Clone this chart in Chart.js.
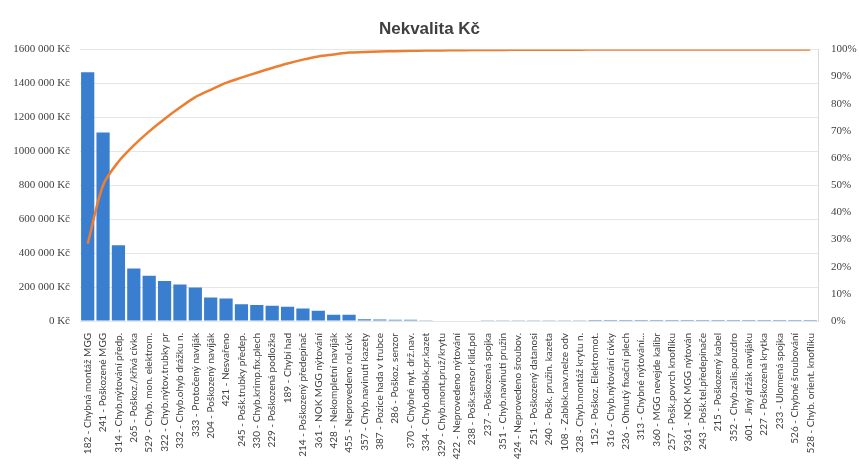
<!DOCTYPE html>
<html>
<head>
<meta charset="utf-8">
<script src="https://cdn.jsdelivr.net/npm/chart.js@4/dist/chart.umd.min.js"></script>
<style>
  html, body { margin: 0; padding: 0; background: #fff; }
  #wrap { width: 859px; height: 475px; }
</style>
</head>
<body>
<div id="wrap"><canvas id="pareto"></canvas></div>
<script>
// defect codes, sorted by cost
var categories = [
  "182 - Chybná montáž MGG", "241 - Poškozené MGG", "314 - Chyb.nýtování předp.",
  "265 - Poškoz./křivá cívka", "529 - Chyb. mon. elektrom.", "322 - Chyb.nýtov.trubky pr",
  "332 - Chyb.ohyb drážku n.", "333 - Protočený navíják", "204 - Poškozený navíják",
  "421 - Nesvařeno", "245 - Pošk.trubky předep.", "330 - Chyb.krimp.fix.plech",
  "229 - Poškozená podložka", "189 - Chybí had", "214 - Poškozený předepínač",
  "361 - NOK MGG nýtování", "428 - Nekompletní navíják", "455 - Neprovedeno rol.cívk",
  "357 - Chyb.navinutí kazety", "387 - Pozice hada v trubce", "286 - Poškoz. senzor",
  "370 - Chybné nyt. drž.nav.", "334 - Chyb.odblok.pr.kazet", "329 - Chyb.mont.pruž/krytu",
  "422 - Neprovedeno nýtování", "238 - Pošk.sensor klid.pol", "237 - Poškozená spojka",
  "351 - Chyb.navinutí pružin", "424 - Neprovedeno šroubov.", "251 - Poškozený datanosi",
  "240 - Pošk. pružin. kazeta", "108 - Zablok.nav.nelze odv", "328 - Chyb.montáž krytu n.",
  "152 - Poškoz. Elektromot.", "316 - Chyb.nýtování cívky", "236 - Ohnutý fixační plech",
  "313 - Chybné nýtování...", "360 - MGG nevejde kalibr", "257 - Pošk.povrch knoflíku",
  "9361 - NOK MGG nýtován", "243 - Pošk.tel.předepínače", "215 - Poškozený kabel",
  "352 - Chyb.zalis.pouzdro", "601 - Jiný držák navíjáku", "227 - Poškozená krytka",
  "233 - Ulomená spojka", "526 - Chybné šroubování", "528 - Chyb. orient. knoflíku"
];

// cost per defect code (Kč)
var costs = [
  1466000, 1110000, 446000, 309000, 266000, 236000,
  215000, 198000, 139000, 133000, 98000, 94000,
  90000, 84000, 74000, 60000, 37000, 37000,
  10000, 9000, 8000, 7000, 4000, 3500,
  3000, 2500, 2000, 1500, 1400, 1200,
  1000, 900, 800, 700, 600, 500,
  450, 400, 350, 300, 250, 200,
  150, 120, 100, 80, 50, 30
];

var costTicks = [0, 200000, 400000, 600000, 800000, 1000000, 1200000, 1400000, 1600000];

// running share of the total cost
var total = costs.reduce(function(a, b){ return a + b; }, 0);
var run = 0;
var cumulative = costs.map(function(v){
  run += v;
  return run / total;
});

function formatKc(v){
  if (v == 0) return "0 Kč";
  return Math.floor(v / 1000) + " 000 Kč";
}

var ctx = document.getElementById('pareto').getContext('2d');
var chart = new Chart(ctx, {
  data: {
    labels: categories,
    datasets: [{
      type: 'line',
      data: cumulative,
      yAxisID: 'pct',
      borderColor: '#ed7d31',
      borderWidth: 2.5,
      pointRadius: 0,
      tension: 0.3,
      order: 0
    }, {
      type: 'bar',
      data: costs,
      yAxisID: 'kc',
      backgroundColor: '#3a7fcf',
      barPercentage: 0.86,
      categoryPercentage: 1.0,
      order: 1
    }]
  },
  options: {
    responsive: true,
    maintainAspectRatio: false,
    animation: false,
    layout: { padding: { left: 0, right: 0, top: 0, bottom: 4 } },
    plugins: {
      legend: { display: false },
      tooltip: { enabled: false },
      title: {
        display: true,
        text: 'Nekvalita Kč',
        color: '#404040',
        font: { family: 'Liberation Sans', size: 17, weight: 'bold' },
        padding: { top: 19, bottom: 10 }
      }
    },
    scales: {
      x: {
        grid: { display: false },
        border: { display: false },
        ticks: {
          autoSkip: false,
          minRotation: 90,
          maxRotation: 90,
          color: '#404040',
          font: { family: 'Lato', size: 10 },
          padding: 4
        },
        afterFit: function(scale){ scale.height = 150; }
      },
      kc: {
        position: 'left',
        min: 0,
        max: 1600000,
        afterBuildTicks: function(scale){
          scale.ticks = costTicks.map(function(v){ return { value: v }; });
        },
        grid: { color: '#e6e6e6', drawTicks: false },
        border: { display: false },
        ticks: {
          color: '#404040',
          font: { family: 'Liberation Serif', size: 11 },
          padding: 10,
          callback: function(v){ return formatKc(v); }
        },
        afterFit: function(scale){ scale.width = 80; }
      },
      pct: {
        position: 'right',
        min: 0,
        max: 1,
        grid: { display: false, drawTicks: false },
        border: { display: true, color: '#d9d9d9' },
        ticks: {
          stepSize: 0.1,
          color: '#404040',
          font: { family: 'Liberation Serif', size: 11 },
          padding: 13,
          callback: function(v){ return Math.round(v * 100) + '%'; }
        },
        afterFit: function(scale){ scale.width = 41; }
      }
    }
  }
});
</script>
</body>
</html>
